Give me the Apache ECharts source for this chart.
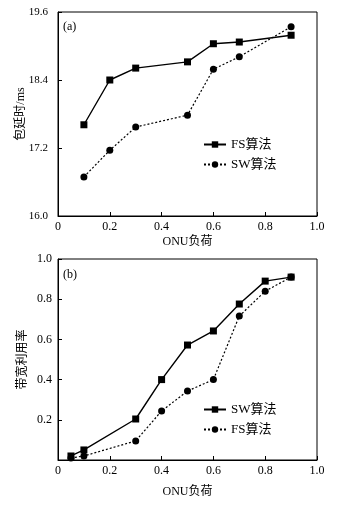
<!DOCTYPE html>
<html><head><meta charset="utf-8">
<script src="https://cdn.jsdelivr.net/npm/echarts@6/dist/echarts.min.js"></script>
<style>html,body{margin:0;padding:0;background:#fff}#c{width:340px;height:516px}</style>
</head><body><div id="c"></div>
<script>
// Chart (a): packet delay
const loadA = [0.1, 0.2, 0.3, 0.5, 0.6, 0.7, 0.9];
const delayFS = [17.61, 18.40, 18.61, 18.72, 19.04, 19.07, 19.19];
const delaySW = [16.69, 17.16, 17.57, 17.78, 18.59, 18.81, 19.34];
const yTicksA = [16.0, 17.2, 18.4, 19.6];
// Chart (b): bandwidth utilization
const loadB = [0.05, 0.1, 0.3, 0.4, 0.5, 0.6, 0.7, 0.8, 0.9];
const utilSW = [0.02, 0.05, 0.204, 0.40, 0.572, 0.642, 0.776, 0.89, 0.91];
const utilFS = [0.01, 0.02, 0.095, 0.244, 0.343, 0.40, 0.716, 0.84, 0.91];
const yTicksB = [0.2, 0.4, 0.6, 0.8, 1.0];
const xTicks = [0, 0.2, 0.4, 0.6, 0.8, 1.0];

const serif = '"Liberation Serif","DejaVu Serif","Noto Sans CJK SC",serif';
const txt = {color:'#000', fontFamily: serif, fontSize: 12};
const pairs = (xs, ys) => xs.map((x,i)=>[x, ys[i]]);
const fmt = v => (Math.abs(v) < 1e-9 ? '0' : v.toFixed(1));

function xAxis(gi, gap){
  return {type:'value', gridIndex:gi, min:0, max:1, interval:0.2,
    name:'ONU负荷', nameLocation:'middle', nameGap:gap, nameMoveOverlap:false,
    nameTextStyle:Object.assign({}, txt, {fontSize:12}),
    axisLine:{show:true, lineStyle:{color:'#000', width:1}},
    axisTick:{show:true, inside:true, length:4, lineStyle:{color:'#000'}},
    axisLabel:Object.assign({formatter:fmt, margin:5}, txt),
    splitLine:{show:false}};
}
const chart = echarts.init(document.getElementById('c'), null, {renderer:'canvas'});
const lineSolid = {color:'#000', width:1.4, type:'solid'};
const lineDot = {color:'#000', width:1.2, type:[2,2]};
chart.setOption({
  animation:false,
  backgroundColor:'#fff',
  grid:[
    {left:58, top:12, width:259, height:204, show:true, borderColor:'#000', borderWidth:1, backgroundColor:'transparent'},
    {left:58, top:259, width:259, height:201, show:true, borderColor:'#000', borderWidth:1, backgroundColor:'transparent'}
  ],
  xAxis:[xAxis(0, 20), xAxis(1, 26)],
  yAxis:[
    {type:'value', gridIndex:0, min:16, max:19.6,
      name:'包延时/ms', nameLocation:'middle', nameGap:31, nameMoveOverlap:false, nameTextStyle:txt,
      axisLine:{show:true, lineStyle:{color:'#000'}},
      axisTick:{show:true, inside:true, length:4, customValues:yTicksA, lineStyle:{color:'#000'}},
      axisLabel:Object.assign({customValues:yTicksA, formatter:v=>v.toFixed(1), margin:10}, txt, {fontSize:11}),
      splitLine:{show:false}},
    {type:'value', gridIndex:1, min:0, max:1,
      name:'带宽利用率', nameLocation:'middle', nameGap:29, nameMoveOverlap:false, nameTextStyle:txt,
      axisLine:{show:true, lineStyle:{color:'#000'}},
      axisTick:{show:true, inside:true, length:4, customValues:yTicksB, lineStyle:{color:'#000'}},
      axisLabel:Object.assign({customValues:yTicksB, formatter:v=>v.toFixed(1), margin:6}, txt),
      splitLine:{show:false}}
  ],
  legend:[
    {data:['FS算法(a)','SW算法(a)'], orient:'vertical', left:198, top:133, itemWidth:22, itemHeight:8, itemGap:7,
      formatter:n=>n.replace(/\(.\)$/,''), textStyle:Object.assign({}, txt, {fontSize:13}), selectedMode:false},
    {data:['SW算法(b)','FS算法(b)'], orient:'vertical', left:198, top:398, itemWidth:22, itemHeight:8, itemGap:7,
      formatter:n=>n.replace(/\(.\)$/,''), textStyle:Object.assign({}, txt, {fontSize:13}), selectedMode:false}
  ],
  graphic:[
    {type:'text', left:63, top:21, style:{text:'(a)', fill:'#000', font:'12px '+serif}},
    {type:'text', left:63, top:269, style:{text:'(b)', fill:'#000', font:'12px '+serif}}
  ],
  series:[
    {name:'FS算法(a)', type:'line', xAxisIndex:0, yAxisIndex:0, data:pairs(loadA, delayFS),
      symbol:'rect', symbolSize:7, itemStyle:{color:'#000'}, lineStyle:lineSolid},
    {name:'SW算法(a)', type:'line', xAxisIndex:0, yAxisIndex:0, data:pairs(loadA, delaySW),
      symbol:'circle', symbolSize:7, itemStyle:{color:'#000'}, lineStyle:lineDot},
    {name:'SW算法(b)', type:'line', xAxisIndex:1, yAxisIndex:1, data:pairs(loadB, utilSW),
      symbol:'rect', symbolSize:7, itemStyle:{color:'#000'}, lineStyle:lineSolid},
    {name:'FS算法(b)', type:'line', xAxisIndex:1, yAxisIndex:1, data:pairs(loadB, utilFS),
      symbol:'circle', symbolSize:7, itemStyle:{color:'#000'}, lineStyle:lineDot}
  ]
});
</script></body></html>
